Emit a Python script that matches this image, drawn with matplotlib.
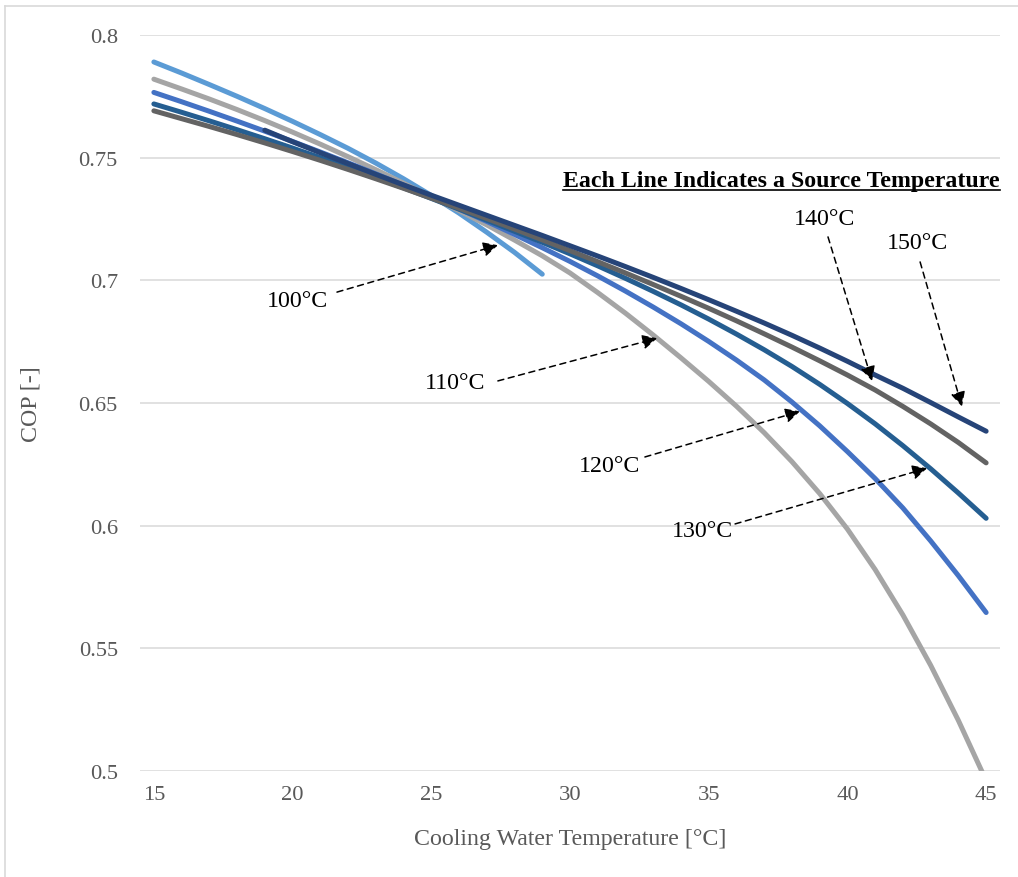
import numpy as np
import matplotlib
matplotlib.use("Agg")
import matplotlib.pyplot as plt
from matplotlib.lines import Line2D

plt.rcParams['font.family'] = ['Liberation Serif', 'DejaVu Serif']

# cooling water temperature [°C]
x_full = list(range(15, 46))
x_100 = list(range(15, 30))
x_150 = list(range(19, 46))

# COP for each source temperature
cop_100 = [0.789, 0.7845, 0.7798, 0.7750, 0.7700, 0.7648, 0.7594, 0.7538,
           0.7478, 0.7414, 0.7346, 0.7274, 0.7196, 0.7114, 0.7025]
cop_110 = [0.782, 0.7780, 0.7739, 0.7696, 0.7651, 0.7604, 0.7555, 0.7504,
           0.7451, 0.7396, 0.7339, 0.7284, 0.7226, 0.7164, 0.7100, 0.7030,
           0.6950, 0.6866, 0.6777, 0.6684, 0.6588, 0.6487, 0.6379, 0.6261,
           0.6131, 0.5986, 0.5821, 0.5636, 0.5431, 0.5206, 0.4961]
cop_120 = [0.7766, 0.7728, 0.7689, 0.7649, 0.7608, 0.7566, 0.7523, 0.7479,
           0.7434, 0.7388, 0.7340, 0.7291, 0.7240, 0.7187, 0.7133, 0.7077,
           0.7018, 0.6956, 0.6891, 0.6823, 0.6751, 0.6675, 0.6594, 0.6504,
           0.6407, 0.6302, 0.6192, 0.6072, 0.5938, 0.5796, 0.5646]
cop_130 = [0.7719, 0.7685, 0.7650, 0.7614, 0.7577, 0.7539, 0.7500, 0.7460,
           0.7419, 0.7377, 0.7334, 0.7290, 0.7245, 0.7200, 0.7155, 0.7108,
           0.7059, 0.7008, 0.6955, 0.6900, 0.6842, 0.6781, 0.6717, 0.6649,
           0.6576, 0.6498, 0.6415, 0.6326, 0.6232, 0.6133, 0.6030]
cop_140 = [0.7691, 0.7659, 0.7627, 0.7594, 0.7560, 0.7525, 0.7489, 0.7452,
           0.7414, 0.7375, 0.7335, 0.7294, 0.7252, 0.7209, 0.7165, 0.7121,
           0.7076, 0.7030, 0.6983, 0.6935, 0.6886, 0.6835, 0.6782, 0.6728,
           0.6672, 0.6614, 0.6553, 0.6486, 0.6415, 0.6339, 0.6256]
cop_150 = [0.7612, 0.7565, 0.7520, 0.7476, 0.7432, 0.7389, 0.7347, 0.7306,
           0.7265, 0.7224, 0.7183, 0.7141, 0.7099, 0.7056, 0.7012, 0.6967,
           0.6921, 0.6874, 0.6826, 0.6776, 0.6724, 0.6670, 0.6614, 0.6560,
           0.6502, 0.6443, 0.6385]

labels = ['100°C', '110°C', '120°C', '130°C', '140°C', '150°C']
colors = ['#5B9BD5', '#A5A5A5', '#4472C4', '#255E91', '#636363', '#264478']
series = [(x_100, cop_100), (x_full, cop_110), (x_full, cop_120),
          (x_full, cop_130), (x_full, cop_140), (x_150, cop_150)]

# label text centre, arrow tail, x of arrow tip on the line, small y nudge
label_pos = [(20.16, 0.6916), (25.85, 0.6582), (31.44, 0.6247),
             (34.76, 0.5982), (39.19, 0.7254), (42.51, 0.7156)]
tail_pos = [(21.60, 0.6952), (27.40, 0.6590), (32.70, 0.6280),
            (35.95, 0.6007), (39.30, 0.7177), (42.62, 0.7075)]
tip_x = [27.4, 33.14, 38.29, 42.87, 40.89, 44.13]
tip_dy = [-0.002, 0.0, -0.001, -0.001, 0.003, 0.005]

FS = 17.2

fig = plt.figure(figsize=(10.18, 8.78), dpi=100)
ax = fig.add_axes([140 / 1018, 1 - 772 / 878, 860 / 1018, 736 / 878])

for (xs, ys), c in zip(series, colors):
    ax.plot(xs, ys, color=c, lw=3.6, solid_capstyle='round', zorder=3)

ax.set_xlim(14.5, 45.5)
ax.set_ylim(0.5, 0.8)
ax.set_xticks(range(15, 46, 5))
ax.set_yticks(np.arange(0.5, 0.801, 0.05))
ax.set_yticklabels(['0.5', '0.55', '0.6', '0.65', '0.7', '0.75', '0.8'])
ax.grid(axis='y', color='#D9D9D9', lw=1.1)
ax.set_axisbelow(True)
for s in ax.spines.values():
    s.set_visible(False)
ax.tick_params(axis='both', length=0, labelsize=16.2, labelcolor='#595959')
ax.tick_params(axis='x', pad=10)
ax.tick_params(axis='y', pad=16)

ax.set_xlabel('Cooling Water Temperature [°C]', fontsize=FS, color='#595959')
ax.set_ylabel('COP [-]', fontsize=FS, color='#595959', va='center')
ax.xaxis.set_label_coords(0.5, -0.077)
ax.yaxis.set_label_coords(-0.127, 0.5)

# series labels with dashed arrows
for i, lab in enumerate(labels):
    xs, ys = series[i]
    tip = (tip_x[i], np.interp(tip_x[i], xs, ys) + tip_dy[i])
    ax.text(label_pos[i][0], label_pos[i][1], lab, fontsize=FS,
            ha='center', va='center', zorder=5)
    ax.annotate('', xy=tip, xytext=tail_pos[i],
                arrowprops=dict(arrowstyle='-|>', color='k', lw=1.1,
                                linestyle=(0, (4, 3)), mutation_scale=22,
                                shrinkA=0, shrinkB=0), zorder=5)

title = ax.text(45.5, 0.7385, 'Each Line Indicates a Source Temperature',
                fontsize=FS, fontweight='bold', ha='right', va='baseline')

# underline the note
fig.canvas.draw()
bb = title.get_window_extent(fig.canvas.get_renderer())
x0, _ = ax.transData.inverted().transform((bb.x0, 0))
x1, _ = ax.transData.inverted().transform((bb.x1, 0))
ax.plot([x0, x1], [0.7369, 0.7369], color='k', lw=1.2, clip_on=False)

# chart area border (top and left, the rest is cropped off)
fig.add_artist(Line2D([5 / 1018, 1], [1 - 7 / 878, 1 - 7 / 878],
                      color='#D9D9D9', lw=1.2))
fig.add_artist(Line2D([5 / 1018, 5 / 1018], [0, 1 - 7 / 878],
                      color='#D9D9D9', lw=1.2))

fig.savefig('out.png', dpi=100)
